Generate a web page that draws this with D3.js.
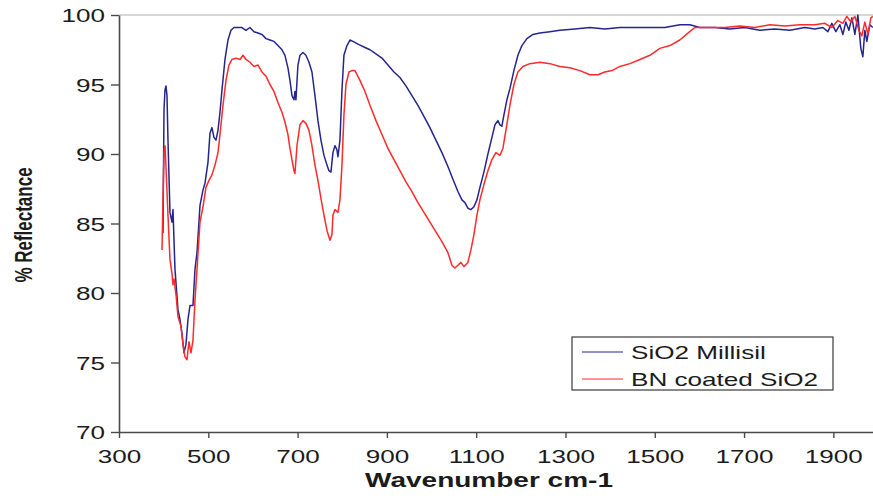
<!DOCTYPE html>
<html>
<head>
<meta charset="utf-8">
<script src="https://cdn.jsdelivr.net/npm/d3@7/dist/d3.min.js"></script>
<style>
  html, body { margin: 0; padding: 0; background: #ffffff; }
  svg { display: block; }
  text { font-family: "Liberation Sans", Arial, sans-serif; fill: #1b1b1b; }
</style>
</head>
<body>
<svg id="chart" width="873" height="499"></svg>
<script>
// FTIR reflectance spectra: wavenumber (cm-1) and % reflectance
const seriesNames = ["SiO2 Millisil", "BN coated SiO2"];
const seriesColors = ["#25258f", "#ff2a2a"];

const millisilWn = [398.5,400.8,403,405.2,407.5,409.7,414.2,418.7,420.9,425.4,432.1,436.6,441.1,445.5,450,454.5,459,465.7,470.2,474.7,481.4,488.1,492.6,499.3,503.8,508.2,512.7,517.2,521.7,526.2,530.6,537.4,544.1,550.8,557.5,566.5,575.4,584.4,593.3,602.3,611.3,620.2,629.2,638.1,647.1,656,665,671.7,678.4,682.9,687.4,691.9,694.1,696.3,700.8,705.3,712,718.7,725.5,732.2,738.9,745.6,752.3,759.1,765.8,770.2,774.7,779.2,783.7,788.2,790.4,794.9,799.4,803.8,810.6,817.3,824,835.2,848.6,862.1,875.5,889,902.4,915.8,929.2,942.7,956.1,969.5,983,996.4,1009.8,1023.3,1036.7,1050.2,1059.1,1068.1,1074.8,1081.5,1088.2,1095,1101.7,1108.4,1117.3,1126.3,1135.3,1142,1148.7,1153.2,1157.6,1162.1,1168.8,1175.6,1184.5,1193.5,1202.4,1213.6,1227.1,1242.7,1265.1,1287.5,1321.1,1354.7,1388.3,1421.9,1455.5,1489.1,1522.6,1556.2,1578.6,1601,1634.6,1668.2,1701.8,1735.4,1769,1802.6,1836.2,1858.5,1876.5,1887.7,1896.6,1905.6,1914.6,1921.3,1928,1934.8,1941.5,1948.2,1954.9,1961.6,1966.1,1970.5,1975,1981.7,1988.4];
const millisilR = [84.3,93.2,94.6,94.9,94.2,91.0,85.8,85.1,86.0,81.7,78.8,78.1,77.1,75.7,76.3,78.1,79.1,79.1,81.7,82.9,86.3,87.4,87.9,89.4,91.5,91.9,91.2,91.0,91.7,93.0,94.6,96.8,98.2,98.9,99.1,99.1,99.1,98.9,99.1,98.8,98.7,98.6,98.3,98.2,98.1,97.8,97.5,97.1,96.2,95.3,94.2,93.9,94.5,93.9,96.4,97.1,97.3,97.1,96.6,95.9,94.2,92.4,91.0,89.9,89.2,88.8,88.7,90.1,90.6,90.3,89.8,91.0,94.6,97.1,97.8,98.2,98.1,97.9,97.7,97.5,97.2,96.9,96.4,95.9,95.5,94.9,94.2,93.5,92.7,91.9,91.0,90.1,89.1,88.0,87.3,86.7,86.5,86.1,86.0,86.2,86.7,87.6,88.7,90.0,91.2,92.1,92.4,92.1,92.0,92.8,93.9,94.7,96.0,97.1,97.8,98.3,98.6,98.7,98.8,98.9,99.0,99.1,99.0,99.1,99.1,99.1,99.1,99.3,99.3,99.1,99.1,99.0,99.1,98.9,99.0,98.9,99.1,99.0,99.1,98.8,99.4,98.8,99.3,98.6,99.5,98.9,99.8,98.6,100,97.6,97.0,98.9,98.1,99.3,99.1];

const coatedWn = [396.3,398.5,400.8,403,405.2,409.7,414.2,418.7,420.9,423.1,427.6,432.1,438.8,443.3,447.8,452.2,456.7,461.2,465.7,470.2,474.7,481.4,488.1,494.8,501.5,508.2,515,521.7,526.2,532.9,539.6,546.3,553,562,571,577.7,584.4,593.3,602.3,611.3,620.2,629.2,638.1,647.1,656,665,671.7,678.4,682.9,687.4,691.9,694.1,698.6,705.3,712,718.7,725.5,732.2,738.9,745.6,752.3,759.1,765.8,772.5,777,779.2,783.7,790.4,794.9,799.4,803.8,808.3,815,821.8,828.5,839.7,850.9,862.1,875.5,889,902.4,915.8,929.2,942.7,956.1,969.5,983,996.4,1009.8,1023.3,1036.7,1045.7,1052.4,1059.1,1065.8,1072.6,1081.5,1088.2,1095,1101.7,1108.4,1117.3,1126.3,1135.3,1144.2,1153.2,1159.9,1166.6,1175.6,1184.5,1193.5,1204.7,1220.3,1242.7,1265.1,1287.5,1309.9,1332.3,1354.7,1372.7,1388.3,1404,1421.9,1444.3,1466.7,1489.1,1511.5,1533.9,1556.2,1574.2,1589.8,1612.2,1634.6,1657,1690.6,1724.2,1757.8,1791.4,1825,1858.5,1880.9,1896.6,1910,1921.3,1930.2,1939.2,1948.2,1957.1,1963.8,1970.5,1977.3,1984,1988.4];
const coatedR = [83.1,86.7,90.1,90.6,89.1,85.6,82.4,81.4,80.6,81.0,79.9,78.3,77.6,76.3,75.4,75.2,76.5,75.7,76.6,79.5,81.7,85.1,86.2,87.6,88.1,88.5,89.2,90.1,91.4,93.5,95.3,96.4,96.8,96.9,96.8,97.1,96.8,96.6,96.3,96.4,95.9,95.6,95.0,94.5,93.7,93.0,92.3,91.4,90.4,89.6,88.8,88.6,90.6,92.1,92.4,92.2,91.7,90.6,89.2,88.1,86.8,85.6,84.5,83.8,84.2,85.6,86.0,85.8,86.7,89.2,92.8,95.0,95.9,96.0,96.0,95.3,94.5,93.5,92.4,91.4,90.4,89.6,88.8,88.0,87.3,86.5,85.8,85.1,84.4,83.7,82.9,82.0,81.8,82.0,82.2,81.9,82.2,83.1,84.2,85.6,86.7,87.8,88.8,89.6,90.1,89.9,90.4,91.7,93.5,95.0,95.9,96.3,96.5,96.6,96.5,96.3,96.2,96.0,95.7,95.7,95.9,96.0,96.3,96.5,96.8,97.1,97.6,97.8,98.2,98.7,99.1,99.1,99.1,99.1,99.2,99.1,99.3,99.2,99.3,99.3,99.4,99.1,99.6,99.4,99.9,99.5,99.9,98.9,98.5,99.5,98.6,99.8,99.9];

const xTicks = [300, 500, 700, 900, 1100, 1300, 1500, 1700, 1900];
const yTicks = [70, 75, 80, 85, 90, 95, 100];
const xTitle = "Wavenumber cm-1";
const yTitle = "% Reflectance";

// ---- layout ----
const stretch = 1.45;             // wide lettering used throughout
const plotLeft = 119, plotRight = 878, plotTop = 15, plotBottom = 432;

const svg = d3.select("#chart");
const x = d3.scaleLinear().domain([300, 2000]).range([plotLeft, plotRight]);
const y = d3.scaleLinear().domain([70, 100]).range([plotBottom, plotTop]);

// frame line along the top of the plot area
svg.append("line")
  .attr("x1", plotLeft).attr("x2", plotRight)
  .attr("y1", plotTop).attr("y2", plotTop)
  .attr("stroke", "#b0b0b0").attr("stroke-width", 1.2);

// y axis
const gy = svg.append("g")
  .attr("transform", `translate(${plotLeft},0)`)
  .call(d3.axisLeft(y).tickValues(yTicks).tickSize(8).tickSizeOuter(0).tickFormat(d3.format("d")));
gy.attr("font-family", null).attr("font-size", null);
gy.select(".domain").attr("stroke", "#4a4a4a").attr("stroke-width", 1.6);
gy.selectAll(".tick line").attr("stroke", "#4a4a4a").attr("stroke-width", 1.4);
gy.selectAll(".tick text")
  .attr("x", null).attr("dy", null)
  .attr("font-size", 18).attr("fill", "#1b1b1b")
  .attr("text-anchor", "end")
  .attr("transform", `translate(-14,6.5) scale(${stretch},1)`);

// x axis
const gx = svg.append("g")
  .attr("transform", `translate(0,${plotBottom})`)
  .call(d3.axisBottom(x).tickValues(xTicks).tickSize(6).tickSizeOuter(0).tickFormat(d3.format("d")));
gx.attr("font-family", null).attr("font-size", null);
gx.select(".domain").attr("stroke", "#4a4a4a").attr("stroke-width", 1.6);
gx.selectAll(".tick line").attr("stroke", "#4a4a4a").attr("stroke-width", 1.4);
gx.selectAll(".tick text")
  .attr("y", null).attr("dy", null)
  .attr("font-size", 18).attr("fill", "#1b1b1b")
  .attr("text-anchor", "middle")
  .attr("transform", `translate(0,31) scale(${stretch},1)`);

// axis titles
svg.append("text")
  .attr("transform", `translate(489,487) scale(${stretch - 0.05},1)`)
  .attr("text-anchor", "middle")
  .attr("font-size", 20).attr("font-weight", "bold")
  .text(xTitle);

svg.append("text")
  .attr("transform", `translate(32,225) scale(${stretch},1) rotate(-90)`)
  .attr("text-anchor", "middle")
  .attr("font-size", 17).attr("font-weight", "bold")
  .text(yTitle);

// spectra
svg.append("clipPath").attr("id", "plotClip")
  .append("rect").attr("x", plotLeft).attr("y", plotTop - 2)
  .attr("width", plotRight - plotLeft).attr("height", plotBottom - plotTop + 2);

const line = d3.line().x(d => x(d[0])).y(d => y(d[1]));
const series = [
  d3.zip(millisilWn, millisilR),
  d3.zip(coatedWn, coatedR)
];

svg.append("g").attr("clip-path", "url(#plotClip)")
  .selectAll("path")
  .data(series)
  .join("path")
  .attr("d", line)
  .attr("fill", "none")
  .attr("stroke", (d, i) => seriesColors[i])
  .attr("stroke-width", 1.5)
  .attr("stroke-linejoin", "round");

// legend
const lg = svg.append("g").attr("transform", "translate(572,337)");
lg.append("rect")
  .attr("x", 0).attr("y", 0).attr("width", 261).attr("height", 53)
  .attr("fill", "#ffffff").attr("stroke", "#3a3a3a").attr("stroke-width", 1.2);
seriesNames.forEach((name, i) => {
  const yy = 15 + i * 27;
  lg.append("line")
    .attr("x1", 10).attr("x2", 51).attr("y1", yy).attr("y2", yy)
    .attr("stroke", seriesColors[i]).attr("stroke-width", 1.2);
  lg.append("text")
    .attr("transform", `translate(59,${yy + 6.5}) scale(${stretch},1)`)
    .attr("font-size", 18)
    .text(name);
});
</script>
</body>
</html>
